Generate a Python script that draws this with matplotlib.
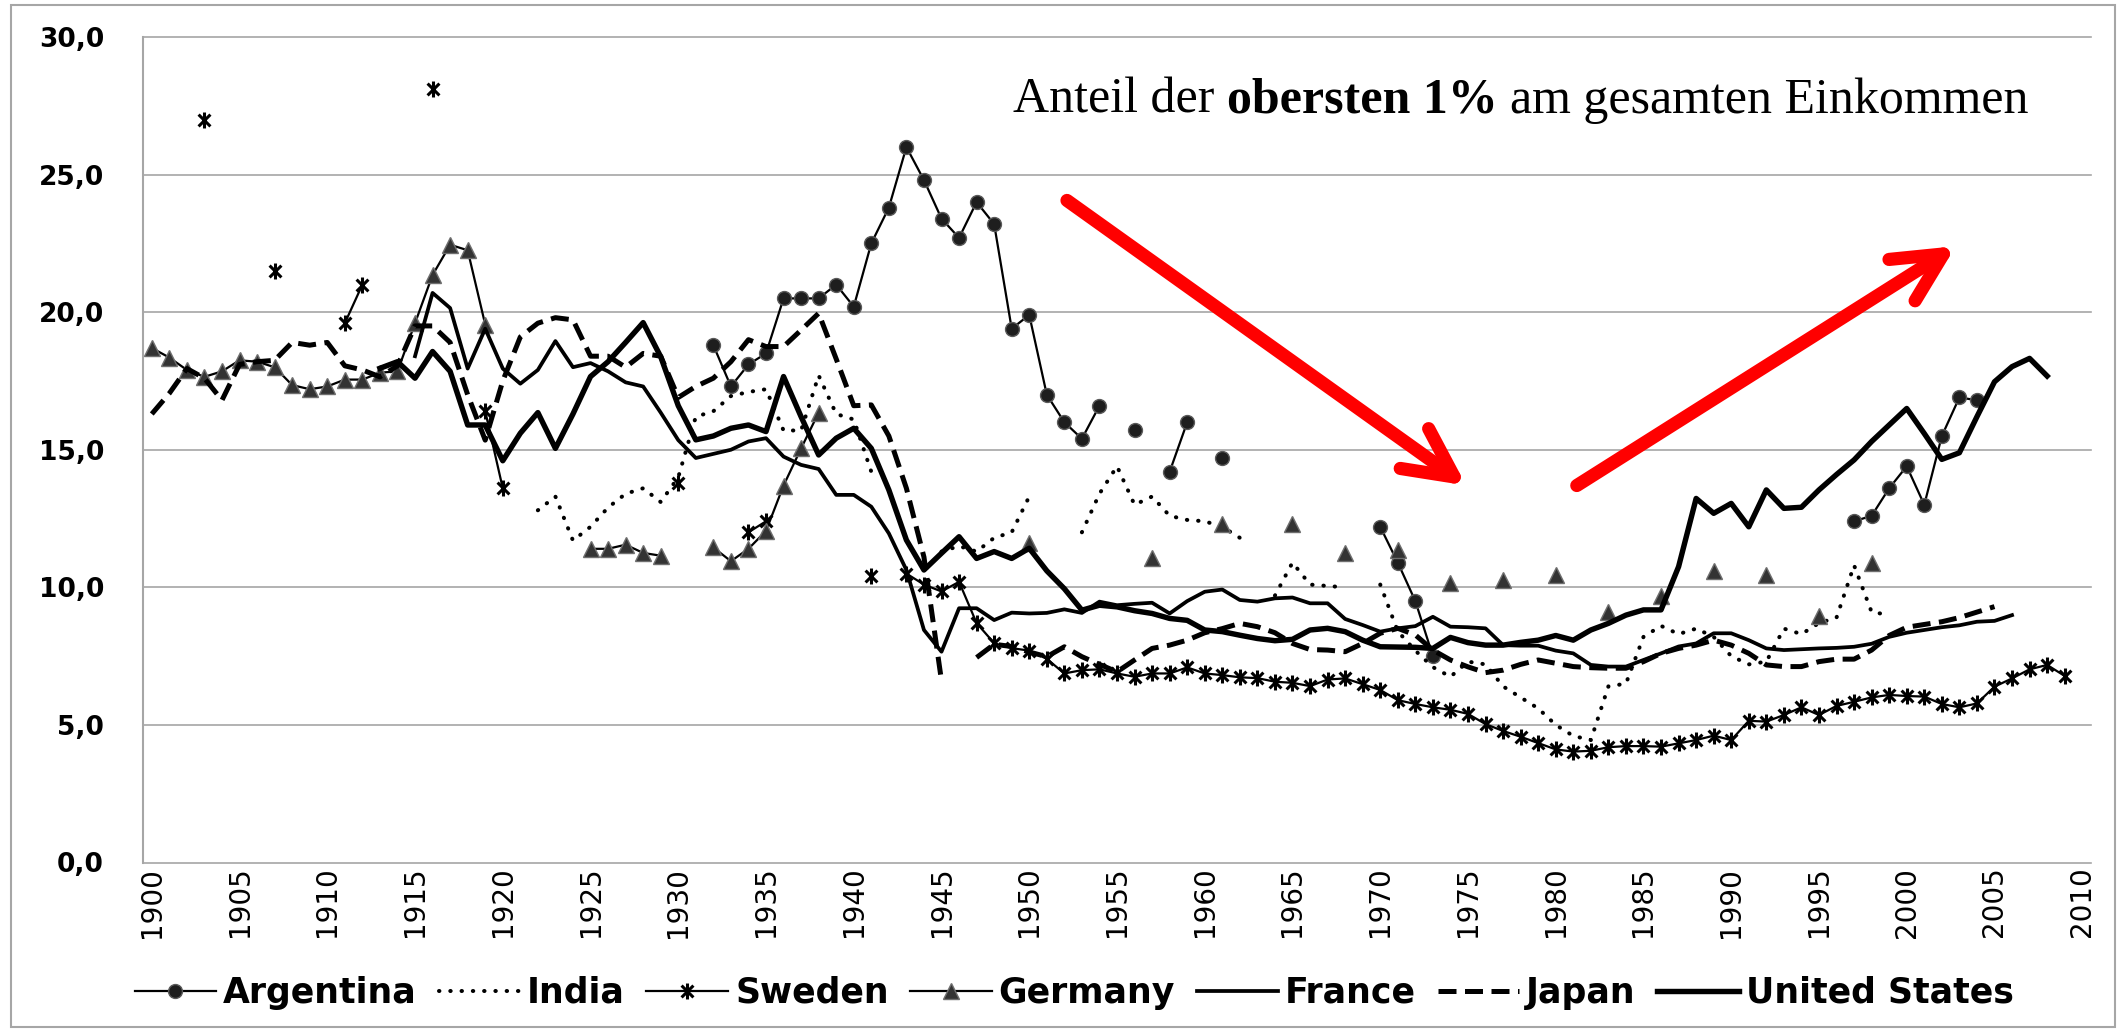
import numpy as np
import matplotlib
matplotlib.use("Agg")
import matplotlib.pyplot as plt
from matplotlib.path import Path
from matplotlib.patches import Rectangle

N = None
years = list(range(1900, 2011))
tick_years = list(range(1900, 2011, 5))
y_ticks = [0, 5, 10, 15, 20, 25, 30]

# Anteil der obersten 1% (in %), one row per decade starting 1900
argentina = [
    N, N, N, N, N, N, N, N, N, N,
    N, N, N, N, N, N, N, N, N, N,
    N, N, N, N, N, N, N, N, N, N,
    N, N, 18.8, 17.3, 18.1, 18.5, 20.5, 20.5, 20.5, 21.0,
    20.2, 22.5, 23.8, 26.0, 24.8, 23.4, 22.7, 24.0, 23.2, 19.4,
    19.9, 17.0, 16.0, 15.4, 16.6, N, 15.7, N, 14.2, 16.0,
    N, 14.7, N, N, N, N, N, N, N, N,
    12.2, 10.9, 9.5, 7.5, N, N, N, N, N, N,
    N, N, N, N, N, N, N, N, N, N,
    N, N, N, N, N, N, N, 12.4, 12.6, 13.6,
    14.4, 13.0, 15.5, 16.9, 16.8,
]
india = [
    N, N, N, N, N, N, N, N, N, N,
    N, N, N, N, N, N, N, N, N, N,
    N, N, 12.8, 13.3, 11.7, 12.2, 12.9, 13.4, 13.6, 13.1,
    14.0, 16.2, 16.4, 16.95, 17.1, 17.2, 15.7, 15.7, 17.7, 16.3,
    16.1, 14.2, N, N, N, 11.3, 11.5, 11.3, 11.8, 12.0,
    13.3, N, N, 12.0, 13.4, 14.4, 13.0, 13.3, 12.6, 12.45,
    12.4, 12.2, 11.8, N, 9.7, 10.9, 10.1, 10.05, 10.0, N,
    10.1, 8.4, 7.7, 7.1, 6.75, 7.3, 7.2, 6.4, 6.0, 5.6,
    5.0, 4.6, 4.45, 6.4, 6.5, 8.2, 8.6, 8.3, 8.5, 8.2,
    7.5, 7.2, 7.3, 8.5, 8.3, 8.7, 8.9, 10.8, 9.1, 9.0,
]
sweden = [
    N, N, N, 27.0, N, N, N, 21.5, N, N,
    N, 19.6, 21.0, N, N, N, 28.1, N, N, 16.4,
    13.6, N, N, N, N, N, N, N, N, N,
    13.8, N, N, N, 12.0, 12.4, N, N, N, N,
    N, 10.4, N, 10.5, 10.1, 9.85, 10.2, 8.7, 7.97, 7.79,
    7.7, 7.4, 6.87, 6.99, 7.02, 6.87, 6.75, 6.87, 6.87, 7.09,
    6.87, 6.81, 6.73, 6.7, 6.57, 6.53, 6.41, 6.65, 6.69, 6.48,
    6.27, 5.9, 5.76, 5.64, 5.55, 5.4, 5.03, 4.78, 4.57, 4.34,
    4.11, 4.03, 4.06, 4.19, 4.23, 4.23, 4.21, 4.33, 4.45, 4.61,
    4.45, 5.15, 5.12, 5.36, 5.64, 5.36, 5.69, 5.84, 6.0, 6.09,
    6.05, 6.03, 5.76, 5.64, 5.78, 6.39, 6.69, 7.02, 7.18, 6.78,
]
germany = [
    18.7, 18.35, 17.9, 17.65, 17.85, 18.25, 18.2, 18.0, 17.35, 17.2,
    17.3, 17.55, 17.55, 17.8, 17.85, 19.6, 21.35, 22.45, 22.25, 19.55,
    N, N, N, N, N, 11.4, 11.4, 11.55, 11.25, 11.15,
    N, N, 11.45, 10.95, 11.4, 12.05, 13.7, 15.05, 16.35, N,
    N, N, N, N, N, N, N, N, N, N,
    11.6, N, N, N, N, N, N, 11.05, N, N,
    N, 12.3, N, N, N, 12.3, N, N, 11.25, N,
    N, 11.35, N, N, 10.15, N, N, 10.25, N, N,
    10.45, N, N, 9.1, N, N, 9.7, N, N, 10.6,
    N, N, 10.45, N, N, 8.95, N, N, 10.9, N,
]
france = [
    N, N, N, N, N, N, N, N, N, N,
    N, N, N, N, N, 18.4, 20.7, 20.15, 17.95, 19.4,
    17.95, 17.4, 17.9, 18.95, 18.0, 18.15, 17.85, 17.45, 17.3, 16.35,
    15.35, 14.7, 14.85, 15.0, 15.3, 15.42, 14.75, 14.45, 14.3, 13.36,
    13.36, 12.93, 11.96, 10.63, 8.45, 7.66, 9.24, 9.24, 8.81, 9.08,
    9.05, 9.07, 9.2, 9.07, 9.48, 9.35, 9.4, 9.44, 9.05, 9.5,
    9.84, 9.92, 9.54, 9.48, 9.6, 9.63, 9.42, 9.42, 8.85, 8.63,
    8.39, 8.51, 8.59, 8.93, 8.57, 8.55, 8.51, 7.9, 7.88, 7.88,
    7.7, 7.6, 7.18, 7.12, 7.12, 7.36, 7.6, 7.85, 7.96, 8.33,
    8.33, 8.08, 7.78, 7.72, 7.75, 7.78, 7.8, 7.84, 7.95, 8.2,
    8.35, 8.45, 8.55, 8.62, 8.75, 8.78, 8.99,
]
japan = [
    16.3, 17.05, 17.95, 17.6, 16.8, 18.1, 18.2, 18.25, 18.9, 18.8,
    18.9, 18.05, 17.9, 17.65, 18.05, 19.5, 19.5, 18.9, 17.0, 15.35,
    17.5, 19.1, 19.6, 19.8, 19.72, 18.4, 18.4, 18.0, 18.5, 18.4,
    16.9, 17.3, 17.6, 18.2, 19.0, 18.75, 18.75, 19.35, 19.96, 18.3,
    16.6, 16.63, 15.5, 13.6, 11.1, 6.6, N, 7.45, 7.93, 7.85,
    7.65, 7.48, 7.84, 7.48, 7.2, 6.93, 7.36, 7.78, 7.9, 8.08,
    8.35, 8.5, 8.69, 8.57, 8.35, 7.96, 7.74, 7.72, 7.66, 7.96,
    8.33, 8.51, 8.27, 7.72, 7.36, 7.11, 6.9, 6.99, 7.2, 7.36,
    7.24, 7.12, 7.08, 7.06, 7.06, 7.3, 7.6, 7.78, 7.9, 8.08,
    7.9, 7.6, 7.18, 7.12, 7.12, 7.3, 7.39, 7.39, 7.72, 8.25,
    8.55, 8.65, 8.75, 8.9, 9.1, 9.3,
]
united_states = [
    N, N, N, N, N, N, N, N, N, N,
    N, N, N, 17.96, 18.2, 17.6, 18.57, 17.85, 15.9, 15.9,
    14.6, 15.6, 16.35, 15.05, 16.3, 17.66, 18.2, 18.9, 19.62, 18.38,
    16.6, 15.36, 15.5, 15.78, 15.9, 15.66, 17.66, 16.2, 14.81, 15.42,
    15.78, 15.05, 13.54, 11.72, 10.63, 11.24, 11.84, 11.05, 11.3, 11.05,
    11.42, 10.6, 9.95, 9.17, 9.35, 9.29, 9.15, 9.05, 8.87, 8.8,
    8.45, 8.39, 8.26, 8.14, 8.06, 8.11, 8.45, 8.51, 8.39, 8.08,
    7.84, 7.83, 7.82, 7.78, 8.18, 7.99, 7.9, 7.9, 8.0, 8.08,
    8.25, 8.08, 8.45, 8.69, 8.99, 9.18, 9.18, 10.75, 13.23, 12.69,
    13.05, 12.2, 13.54, 12.87, 12.91, 13.54, 14.1, 14.63, 15.3, 15.9,
    16.5, 15.59, 14.65, 14.89, 16.2, 17.47, 18.02, 18.32, 17.68,
]

# red trend arrows (start, tip) in year / percent
arrow_down = ((1952.15, 24.06), (1974.9, 13.7))
arrow_up = ((1981.2, 13.7), (2002.8, 22.4))


def to_array(values):
    arr = np.full(len(years), np.nan)
    for i, v in enumerate(values):
        if v is not None:
            arr[i] = v
    return arr


plt.rcParams['font.family'] = ['DejaVu Sans']

# excel "star" marker: x with a vertical bar
star = Path([(-1, -1), (1, 1), (-1, 1), (1, -1), (0, -1.35), (0, 1.35)],
            [Path.MOVETO, Path.LINETO, Path.MOVETO, Path.LINETO, Path.MOVETO, Path.LINETO])

W, H = 2123, 1030
fig = plt.figure(figsize=(W / 100, H / 100), dpi=100)
ax = fig.add_axes([143 / W, 1 - 862.5 / H, (2091 - 143) / W, (862.5 - 37) / H])

ax.plot(years, to_array(argentina), color='black', lw=1.6, marker='o', ms=10,
        mfc='#1e1e1e', mec='#5a5a5a', mew=1, label='Argentina')
ax.plot(years, to_array(india), color='black', lw=2.9, linestyle=(0, (0.1, 2.7)),
        dash_capstyle='round', label='India')
ax.plot(years, to_array(sweden), color='black', lw=1.6, marker=star, ms=11.5,
        mfc='none', mec='black', mew=2.2, label='Sweden')
ax.plot(years, to_array(germany), color='black', lw=1.6, marker='^', ms=11.5,
        mfc='#333333', mec='#6e6e6e', mew=1, label='Germany')
ax.plot(years, to_array(france), color='black', lw=2.7, solid_joinstyle='round', label='France')
ax.plot(years, to_array(japan), color='black', lw=3.6, linestyle=(0, (3.6, 1.7)), label='Japan')
ax.plot(years, to_array(united_states), color='black', lw=3.9, solid_joinstyle='round',
        label='United States')

ax.set_xlim(1899.5, 2010.5)
ax.set_ylim(0, 30)
ax.set_xticks(tick_years)
ax.set_xticklabels([str(y) for y in tick_years], rotation=90, fontsize=20)
ax.set_yticks(y_ticks)
ax.set_yticklabels([f"{v:.1f}".replace(".", ",") for v in y_ticks], fontsize=19, fontweight='bold')
ax.tick_params(axis='both', length=0)
ax.tick_params(axis='y', pad=28)
ax.tick_params(axis='x', pad=3)
ax.grid(axis='y', color='#a6a6a6', lw=1.2)
ax.set_axisbelow(True)
for g in ax.yaxis.get_gridlines():
    g.set_clip_on(False)
for s in ['top', 'right', 'bottom']:
    ax.spines[s].set_visible(False)
ax.spines['left'].set_color('#a6a6a6')
ax.spines['left'].set_linewidth(1.5)

# arrows
for start, tip in [arrow_down, arrow_up]:
    ax.annotate('', xy=tip, xytext=start,
                arrowprops=dict(arrowstyle='->', color='#ff0000', lw=9.5, mutation_scale=88,
                                shrinkA=0, shrinkB=0, capstyle='round', joinstyle='round'))

# title with bold part
serif = 'Liberation Serif'
t1 = ax.text(0.4466, 0.908, "Anteil der", transform=ax.transAxes, fontsize=36,
             family=serif, va='baseline')
t2 = ax.annotate("obersten 1%", xy=(1, 0), xycoords=t1, xytext=(8.8, 0),
                 textcoords='offset points', fontsize=36, family=serif,
                 weight='bold', va='bottom')
t3 = ax.annotate("am gesamten Einkommen", xy=(1, 0), xycoords=t2, xytext=(8.8, 0),
                 textcoords='offset points', fontsize=36, family=serif, va='bottom')

fig.legend(loc='center', bbox_to_anchor=(0.506, 0.036), ncol=7, frameon=False,
           prop={'weight': 'bold', 'size': 25}, handlelength=2.35,
           handletextpad=0.2, columnspacing=0.62)

# chart area border
fig.patches.append(Rectangle((11 / W, 3 / H), (2115 - 11) / W, (1027 - 5) / H,
                             transform=fig.transFigure, fill=False,
                             edgecolor='#a6a6a6', lw=1.5))

fig.savefig('out.png', dpi=100)
